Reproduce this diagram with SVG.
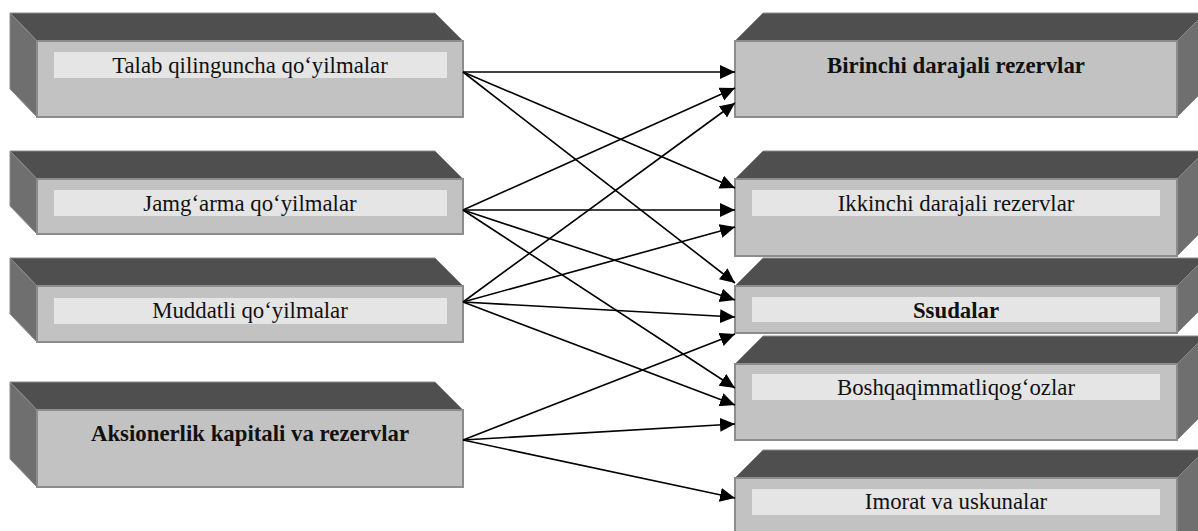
<svg xmlns="http://www.w3.org/2000/svg" width="1198" height="531" viewBox="0 0 1198 531">
<style>
.top{fill:#4f4f4f;stroke:#8a8a8a;stroke-width:1}
.side{fill:#6f6f6f;stroke:#8a8a8a;stroke-width:1}
.front{fill:#c2c2c2;stroke:#8c8c8c;stroke-width:2}
.lbl{fill:#e5e5e5}
.t{font-family:"Liberation Serif","Times New Roman",serif;font-size:22.8px;fill:#111;text-anchor:middle}
.b{font-weight:bold}
.ar{stroke:#000;stroke-width:1.6;fill:none;marker-end:url(#ah)}
</style>
<defs>
<marker id="ah" markerUnits="userSpaceOnUse" markerWidth="16" markerHeight="15" refX="15" refY="7" orient="auto">
<path d="M0,0 L15,7 L0,14 z" fill="#000"/>
</marker>
</defs>
<rect width="1198" height="531" fill="#fff"/>
<g id="L1">
<polygon class="top" points="37,41 10,13 435,13 463,41"/>
<polygon class="side" points="10,13 37,41 37,117 10,89"/>
<rect class="front" x="37" y="41" width="426" height="76"/>
<rect class="lbl" x="54" y="52" width="393" height="26"/>
<text class="t" x="250" y="73">Talab qilinguncha qo‘yilmalar</text>
</g>
<g id="L2">
<polygon class="top" points="37,179 10,151 435,151 463,179"/>
<polygon class="side" points="10,151 37,179 37,234 10,206"/>
<rect class="front" x="37" y="179" width="426" height="55"/>
<rect class="lbl" x="54" y="190" width="393" height="26"/>
<text class="t" x="250" y="211">Jamg‘arma qo‘yilmalar</text>
</g>
<g id="L3">
<polygon class="top" points="37,286 10,258 435,258 463,286"/>
<polygon class="side" points="10,258 37,286 37,342 10,314"/>
<rect class="front" x="37" y="286" width="426" height="56"/>
<rect class="lbl" x="54" y="298" width="393" height="26"/>
<text class="t" x="250" y="318">Muddatli qo‘yilmalar</text>
</g>
<g id="L4">
<polygon class="top" points="37,410 10,382 435,382 463,410"/>
<polygon class="side" points="10,382 37,410 37,487 10,459"/>
<rect class="front" x="37" y="410" width="426" height="77"/>
<text class="t b" x="250" y="441">Aksionerlik kapitali va rezervlar</text>
</g>
<g id="R1">
<polygon class="top" points="735,41 763,13 1205,13 1177,41"/>
<polygon class="side" points="1177,41 1205,13 1205,89 1177,117"/>
<rect class="front" x="735" y="41" width="442" height="76"/>
<text class="t b" x="956" y="73">Birinchi darajali rezervlar</text>
</g>
<g id="R2">
<polygon class="top" points="735,179 763,151 1205,151 1177,179"/>
<polygon class="side" points="1177,179 1205,151 1205,228 1177,256"/>
<rect class="front" x="735" y="179" width="442" height="77"/>
<rect class="lbl" x="752" y="190" width="408" height="26"/>
<text class="t" x="956" y="211">Ikkinchi darajali rezervlar</text>
</g>
<g id="R3">
<polygon class="top" points="735,286 763,258 1205,258 1177,286"/>
<polygon class="side" points="1177,286 1205,258 1205,305 1177,333"/>
<rect class="front" x="735" y="286" width="442" height="47"/>
<rect class="lbl" x="752" y="297" width="408" height="25"/>
<text class="t b" x="956" y="318">Ssudalar</text>
</g>
<g id="R4">
<polygon class="top" points="735,364 763,336 1205,336 1177,364"/>
<polygon class="side" points="1177,364 1205,336 1205,412 1177,440"/>
<rect class="front" x="735" y="364" width="442" height="76"/>
<rect class="lbl" x="752" y="374" width="408" height="26"/>
<text class="t" x="956" y="395">Boshqaqimmatliqog‘ozlar</text>
</g>
<g id="R5">
<polygon class="top" points="735,478 763,450 1205,450 1177,478"/>
<polygon class="side" points="1177,478 1205,450 1205,530 1177,558"/>
<rect class="front" x="735" y="478" width="442" height="80"/>
<rect class="lbl" x="752" y="489" width="408" height="26"/>
<text class="t" x="956" y="509">Imorat va uskunalar</text>
</g>
<g id="connectors">
<line class="ar" x1="463" y1="72" x2="735" y2="72"/>
<line class="ar" x1="463" y1="72" x2="735" y2="188"/>
<line class="ar" x1="463" y1="72" x2="735" y2="283"/>
<line class="ar" x1="463" y1="210" x2="735" y2="88"/>
<line class="ar" x1="463" y1="210" x2="735" y2="210"/>
<line class="ar" x1="463" y1="210" x2="735" y2="300"/>
<line class="ar" x1="463" y1="210" x2="735" y2="388"/>
<line class="ar" x1="463" y1="302" x2="735" y2="103"/>
<line class="ar" x1="463" y1="302" x2="735" y2="227"/>
<line class="ar" x1="463" y1="302" x2="735" y2="317"/>
<line class="ar" x1="463" y1="302" x2="735" y2="405"/>
<line class="ar" x1="463" y1="440" x2="735" y2="334"/>
<line class="ar" x1="463" y1="440" x2="735" y2="424"/>
<line class="ar" x1="463" y1="440" x2="735" y2="498"/>
</g>
</svg>
